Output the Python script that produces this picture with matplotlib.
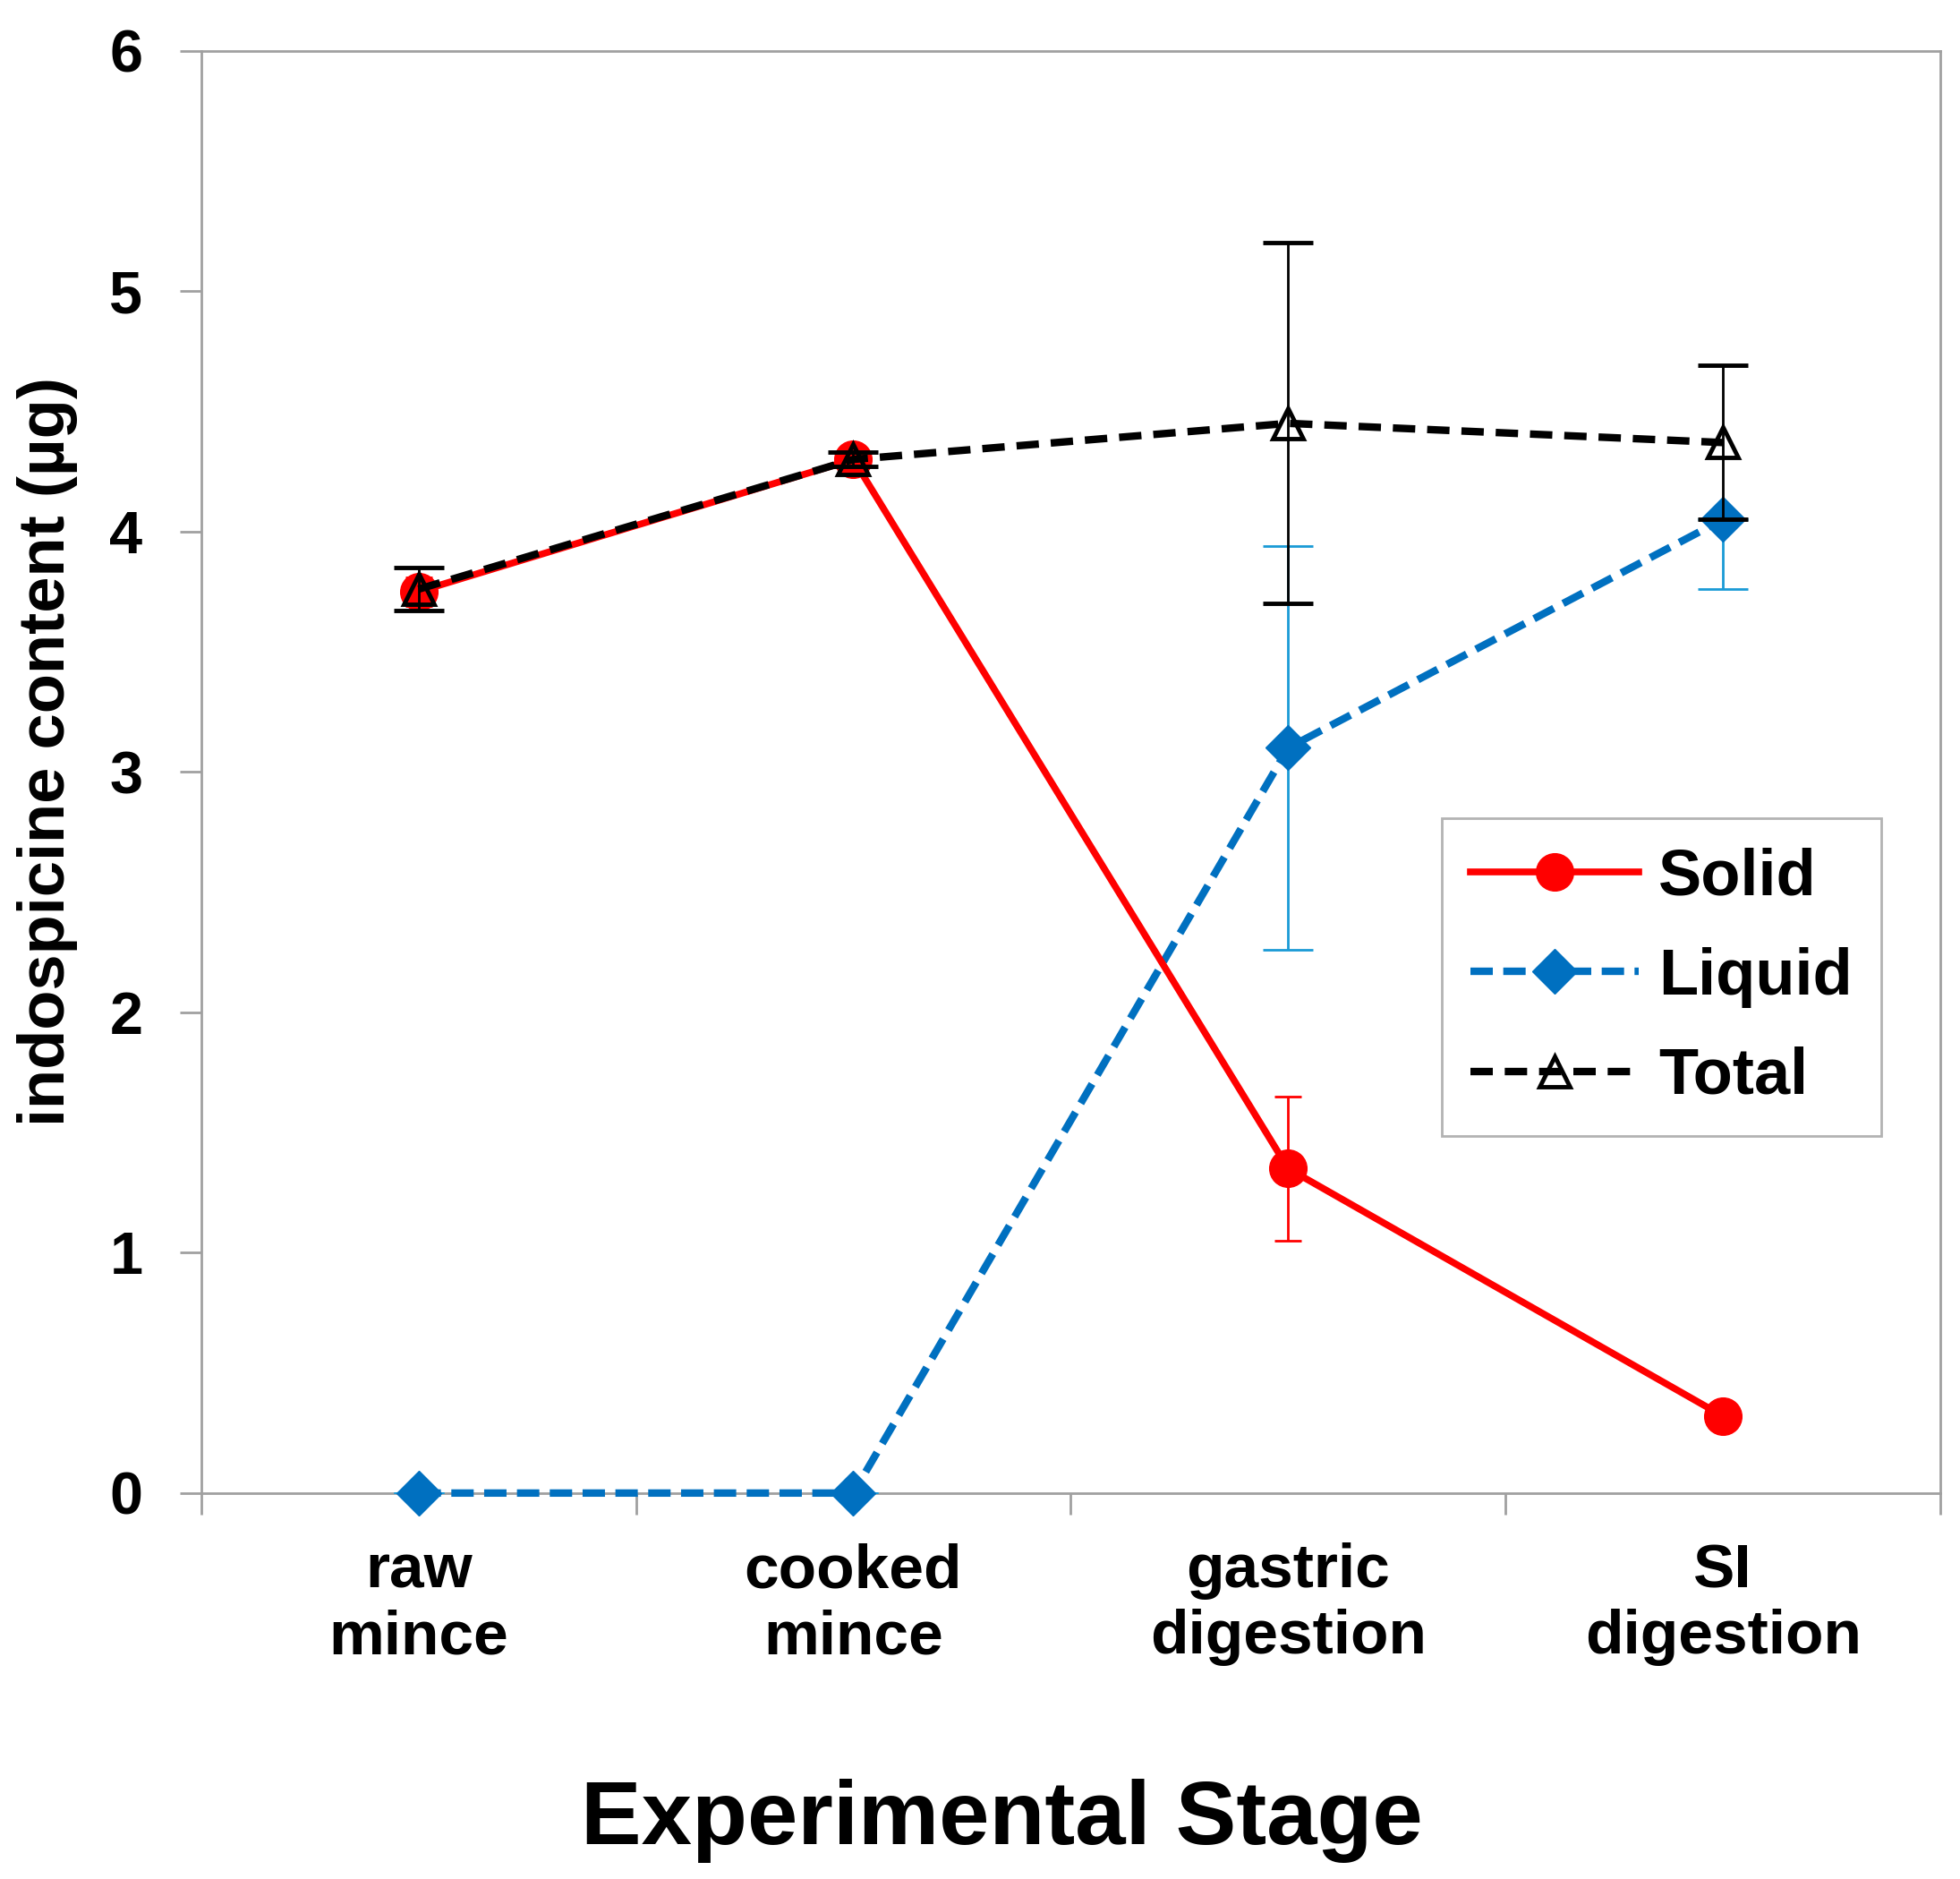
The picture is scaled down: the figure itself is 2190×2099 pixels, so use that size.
import matplotlib
matplotlib.use("Agg")
import matplotlib.pyplot as plt

plt.rcParams['font.family'] = ['Liberation Sans', 'DejaVu Sans']
plt.rcParams['font.weight'] = 'bold'

stages = ['raw\nmince', 'cooked\nmince', 'gastric\ndigestion', 'SI\ndigestion']

solid = [3.75, 4.30, 1.35, 0.32]
solid_err = [0.06, 0.03, 0.30, 0.0]

liquid = [0.0, 0.0, 3.10, 4.05]
liquid_err_lo = [0.0, 0.0, 0.84, 0.29]
liquid_err_hi = [0.0, 0.0, 0.84, 0.0]

total = [3.76, 4.30, 4.45, 4.37]
total_err = [0.09, 0.03, 0.75, 0.32]

x = list(range(len(stages)))

fig = plt.figure(figsize=(21.9, 20.99), dpi=100)
ax = fig.add_axes([0.1026, 0.2054, 0.8874, 0.7676])

gray = '#a0a0a0'

# liquid first, total on top
liq = ax.errorbar(x, liquid, yerr=[liquid_err_lo, liquid_err_hi],
                  color='#0070c0', ecolor='#1a9ad6',
                  elinewidth=2, capsize=20, capthick=2,
                  linestyle=(0, (3, 1.4)), linewidth=6,
                  marker='D', markersize=25, zorder=3)
sol = ax.errorbar(x, solid, yerr=solid_err, color='#ff0000', ecolor='#ff0000',
                  elinewidth=2, capsize=11, capthick=2,
                  linestyle='-', linewidth=5.5,
                  marker='o', markersize=30, zorder=4)
tot = ax.errorbar(x, total, yerr=total_err, color='black', ecolor='black',
                  elinewidth=2, capsize=20, capthick=2,
                  linestyle=(0, (3, 1.6)), linewidth=6,
                  marker='^', markersize=24, markerfacecolor='none',
                  markeredgewidth=3.5, zorder=5)
for cont in (liq, sol, tot):
    cont[0].set_clip_on(False)

ax.set_xlim(-0.5, 3.5)
ax.set_ylim(0, 6)
ax.set_yticks(range(0, 7))
ax.set_xticks(x)
ax.set_xticklabels(stages, fontsize=50, fontweight='bold')
ax.set_xticks([-0.5, 0.5, 1.5, 2.5, 3.5], minor=True)
ax.tick_params(axis='x', which='major', length=0, pad=40)
ax.tick_params(axis='x', which='minor', direction='out', length=17,
               width=2, color=gray)
ax.tick_params(axis='y', direction='out', length=17, width=2, color=gray,
               labelsize=48, pad=30)
for lab in ax.get_yticklabels():
    lab.set_fontweight('bold')

for sp in ax.spines.values():
    sp.set_color(gray)
    sp.set_linewidth(2)

# legend with line+marker only, no error bars
leg = ax.legend([sol[0], liq[0], tot[0]], ['Solid', 'Liquid', 'Total'],
                loc='upper right', bbox_to_anchor=(0.966, 0.468),
                prop={'size': 52, 'weight': 'bold'}, frameon=True,
                fancybox=False, edgecolor=gray, handlelength=2.6,
                handletextpad=0.3, labelspacing=0.6, borderpad=0.45,
                borderaxespad=0)
leg.get_frame().set_linewidth(2)

fig.text(0.024, 0.60, 'indospicine content (µg)', rotation=90,
         ha='center', va='center', fontsize=52, fontweight='bold')
fig.text(0.511, 0.031, 'Experimental Stage', ha='center', va='center',
         fontsize=73, fontweight='bold')

fig.savefig('out.png', dpi=100, facecolor='white')
